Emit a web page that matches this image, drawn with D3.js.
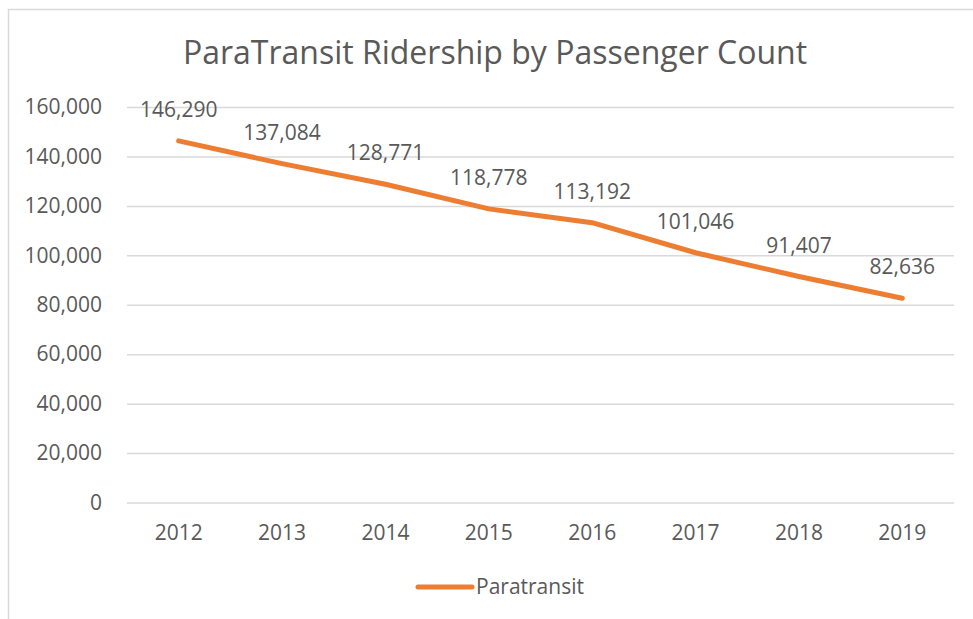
<!DOCTYPE html>
<html>
<head>
<meta charset="utf-8">
<script src="https://cdn.jsdelivr.net/npm/d3@7"></script>
<style>
  body { margin: 0; background: #fff; }
  text { font-family: "Open Sans", sans-serif; fill: #595959; }
</style>
</head>
<body>
<div id="chart"></div>
<script>
/* Paratransit ridership line chart */

const years = ["2012", "2013", "2014", "2015", "2016", "2017", "2018", "2019"];
const riders = [146290, 137084, 128771, 118778, 113192, 101046, 91407, 82636];
const yTicks = [0, 20000, 40000, 60000, 80000, 100000, 120000, 140000, 160000];
const seriesName = "Paratransit";
const title = "ParaTransit Ridership by Passenger Count";

const width = 973,
    height = 619,
    margin = ({top: 107, right: 19, bottom: 116.5, left: 127});

const fontSize = 21;

const data = years.map((y, i) => ({year: y, value: riders[i]}));

let svg = d3.select('#chart')
    .append('svg')
    .attr('width', width)
    .attr('height', height);

// light frame, cropped at right and bottom like the original
svg.append('rect')
    .attr('x', 8.5).attr('y', 9.5)
    .attr('width', 980).attr('height', 640)
    .attr('fill', 'none')
    .attr('stroke', '#d9d9d9')
    .attr('stroke-width', 1.5);

let x = d3.scaleBand()
    .domain(years)
    .range([margin.left, width - margin.right]);

let y = d3.scaleLinear()
    .domain([0, 160000])
    .range([height - margin.bottom, margin.top]);

// gridlines + y labels
const yAxis = g => g
    .attr('transform', `translate(${margin.left}, 0)`)
    .call(d3.axisLeft(y)
        .tickValues(yTicks)
        .tickSize(-(width - margin.left - margin.right))
        .tickPadding(25)
        .tickFormat(d3.format(',')))
    .call(g => g.select('.domain').remove())
    .call(g => g.selectAll('.tick line').attr('stroke', '#d9d9d9').attr('stroke-width', 1.5))
    .call(g => g.selectAll('.tick text').attr('font-size', fontSize).attr('fill', '#595959'));

const xAxis = g => g
    .attr('transform', `translate(0, ${height - margin.bottom})`)
    .call(d3.axisBottom(x).tickSize(0).tickPadding(23))
    .call(g => g.select('.domain').remove())
    .call(g => g.selectAll('.tick text').attr('font-size', fontSize).attr('fill', '#595959'));

svg.append('g').call(yAxis);
svg.append('g').call(xAxis);

// the series line
let line = d3.line()
    .x(d => x(d.year) + x.bandwidth() / 2)
    .y(d => y(d.value));

svg.append('path')
    .datum(data)
    .attr('fill', 'none')
    .attr('stroke', '#ED7D31')
    .attr('stroke-width', 5)
    .attr('stroke-linecap', 'round')
    .attr('stroke-linejoin', 'round')
    .attr('d', line);

// data labels above each point
svg.append('g')
    .selectAll('text')
    .data(data)
    .join('text')
    .attr('x', d => x(d.year) + x.bandwidth() / 2)
    .attr('y', d => y(d.value) - 24)
    .attr('text-anchor', 'middle')
    .attr('font-size', fontSize)
    .text(d => d3.format(',')(d.value));

// title
svg.append('text')
    .attr('x', 495)
    .attr('y', 64)
    .attr('text-anchor', 'middle')
    .attr('font-size', 32)
    .text(title);

// legend
let legend = svg.append('g').attr('transform', 'translate(418, 587)');
legend.append('line')
    .attr('x1', 0).attr('x2', 54)
    .attr('stroke', '#ED7D31')
    .attr('stroke-width', 5)
    .attr('stroke-linecap', 'round');
legend.append('text')
    .attr('x', 58)
    .attr('y', 7)
    .attr('font-size', fontSize)
    .text(seriesName);
</script>
</body>
</html>
